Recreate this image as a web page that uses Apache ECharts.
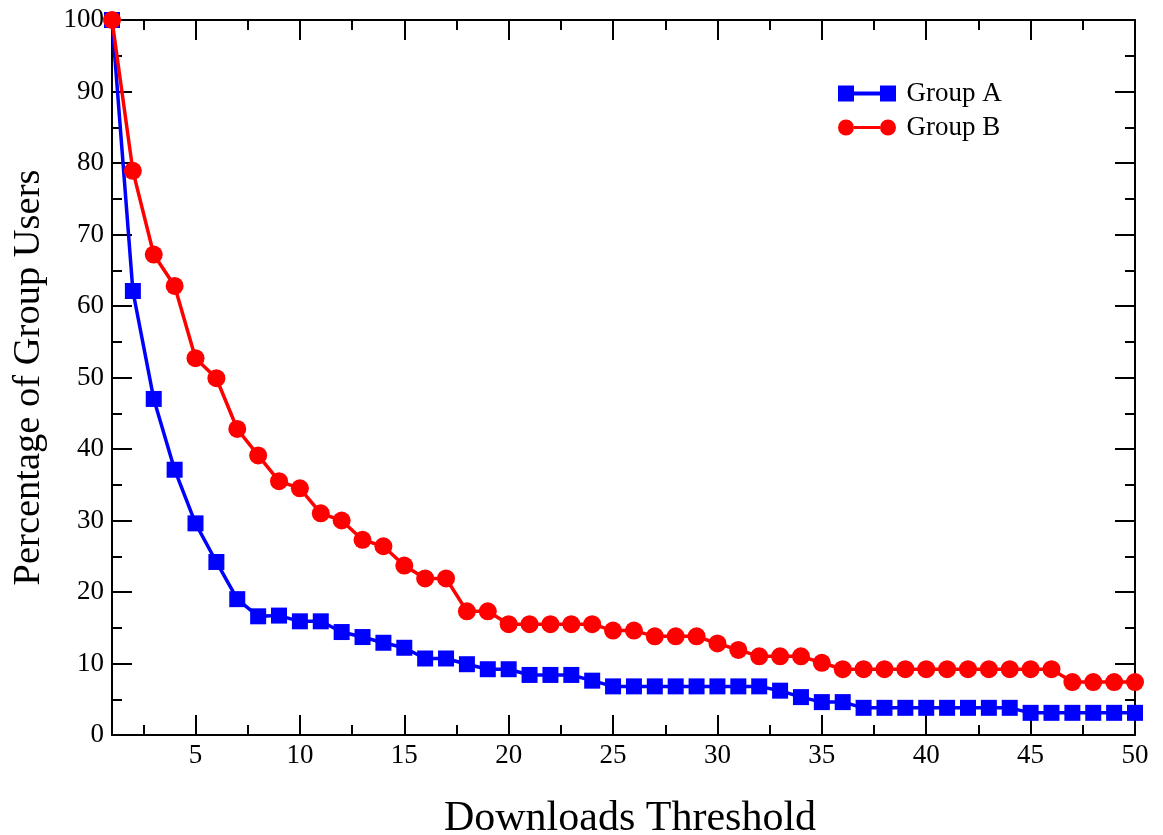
<!DOCTYPE html>
<html>
<head>
<meta charset="utf-8">
<script src="https://cdn.jsdelivr.net/npm/echarts@6/dist/echarts.min.js"></script>
<style>html,body{margin:0;padding:0;background:#fff}#c{width:1163px;height:835px}</style>
</head>
<body>
<div id="c"></div>
<script>
const thresholds = Array.from({length: 50}, (_, i) => i + 1);
const groupA = [100, 62.1, 47.0, 37.1, 29.6, 24.2, 19.0, 16.6, 16.7, 15.9,
  15.9, 14.4, 13.7, 12.9, 12.2, 10.7, 10.7, 9.9, 9.2, 9.2,
  8.4, 8.4, 8.4, 7.6, 6.8, 6.8, 6.8, 6.8, 6.8, 6.8,
  6.8, 6.8, 6.2, 5.3, 4.6, 4.6, 3.8, 3.8, 3.8, 3.8,
  3.8, 3.8, 3.8, 3.8, 3.1, 3.1, 3.1, 3.1, 3.1, 3.1];
const groupB = [100, 78.9, 67.2, 62.8, 52.7, 49.9, 42.8, 39.1, 35.5, 34.5,
  31.0, 30.0, 27.3, 26.4, 23.7, 21.9, 21.9, 17.3, 17.3, 15.5,
  15.5, 15.5, 15.5, 15.5, 14.6, 14.6, 13.8, 13.8, 13.8, 12.8,
  11.9, 11.0, 11.0, 11.0, 10.1, 9.2, 9.2, 9.2, 9.2, 9.2,
  9.2, 9.2, 9.2, 9.2, 9.2, 9.2, 7.4, 7.4, 7.4, 7.4];
const xMajorTicks = [5, 10, 15, 20, 25, 30, 35, 40, 45, 50];
const xMinorTicks = [2.5, 7.5, 12.5, 17.5, 22.5, 27.5, 32.5, 37.5, 42.5, 47.5];
const seriesNames = ['Group A', 'Group B'];

const FONT = 'Liberation Serif';
const lineCol = '#000';
const chart = echarts.init(document.getElementById('c'), null, {renderer: 'canvas'});

function xAxisDef(pos, ticks, len, showLine, showLabel, name) {
  return {
    type: 'value', position: pos, min: 1, max: 50,
    axisLine: {show: showLine, onZero: false, lineStyle: {color: lineCol, width: 2}},
    axisTick: {show: true, inside: true, length: len, customValues: ticks, lineStyle: {color: lineCol, width: 2}},
    axisLabel: showLabel ? {show: true, customValues: ticks, fontFamily: FONT, fontSize: 27, color: '#000', margin: 7} : {show: false},
    splitLine: {show: false},
    name: name || '', nameLocation: 'middle', nameGap: 63,
    nameTextStyle: {fontFamily: FONT, fontSize: 42, color: '#000', padding: [0, 0, 0, 13]}
  };
}
function yAxisDef(pos, showLabel, name) {
  return {
    type: 'value', position: pos, min: 0, max: 100, interval: 10,
    axisLine: {show: true, onZero: false, lineStyle: {color: lineCol, width: 2}},
    axisTick: {show: true, inside: true, length: 20, lineStyle: {color: lineCol, width: 2}},
    minorTick: {show: true, splitNumber: 2, length: 10, lineStyle: {color: lineCol, width: 2}},
    axisLabel: showLabel ? {show: true, fontFamily: FONT, fontSize: 27, color: '#000', margin: 8} : {show: false},
    splitLine: {show: false}, minorSplitLine: {show: false},
    name: name || '', nameLocation: 'middle', nameGap: 64,
    nameTextStyle: {fontFamily: FONT, fontSize: 38.5, color: '#000'}
  };
}

const iconA = 'path://M0,0h16v16h-16z M16,6h26v4h-26z M42,0h16v16h-16z';
const iconB = 'path://M0,8a8,8 0 1,0 16,0a8,8 0 1,0 -16,0z M16,6.5h26v3h-26z M42,8a8,8 0 1,0 16,0a8,8 0 1,0 -16,0z';

chart.setOption({
  animation: false,
  backgroundColor: '#fff',
  grid: {left: 112, right: 28, top: 20, bottom: 100, containLabel: false, outerBoundsMode: 'none'},
  legend: {
    left: 838, top: 80, padding: 0, orient: 'vertical', itemGap: 7, itemWidth: 59, itemHeight: 16,
    textStyle: {fontFamily: FONT, fontSize: 27, color: '#000', padding: [0, 0, 0, 5]},
    data: [{name: seriesNames[0], icon: iconA}, {name: seriesNames[1], icon: iconB}]
  },
  xAxis: [
    xAxisDef('bottom', xMajorTicks, 20, true, true, 'Downloads Threshold'),
    xAxisDef('bottom', xMinorTicks, 10, false, false),
    xAxisDef('top', xMajorTicks, 20, true, false),
    xAxisDef('top', xMinorTicks, 10, false, false)
  ],
  yAxis: [
    yAxisDef('left', true, 'Percentage of Group Users'),
    yAxisDef('right', false)
  ],
  series: [
    {
      name: seriesNames[0], type: 'line', xAxisIndex: 0, yAxisIndex: 0, clip: false,
      data: thresholds.map((x, i) => [x, groupA[i]]),
      symbol: 'rect', symbolSize: 16, showAllSymbol: true,
      lineStyle: {color: '#0000ff', width: 3.5}, itemStyle: {color: '#0000ff'}
    },
    {
      name: seriesNames[1], type: 'line', xAxisIndex: 0, yAxisIndex: 0, clip: false,
      data: thresholds.map((x, i) => [x, groupB[i]]),
      symbol: 'circle', symbolSize: 18, showAllSymbol: true,
      lineStyle: {color: '#ff0000', width: 3.5}, itemStyle: {color: '#ff0000'}
    }
  ]
});
</script>
</body>
</html>
